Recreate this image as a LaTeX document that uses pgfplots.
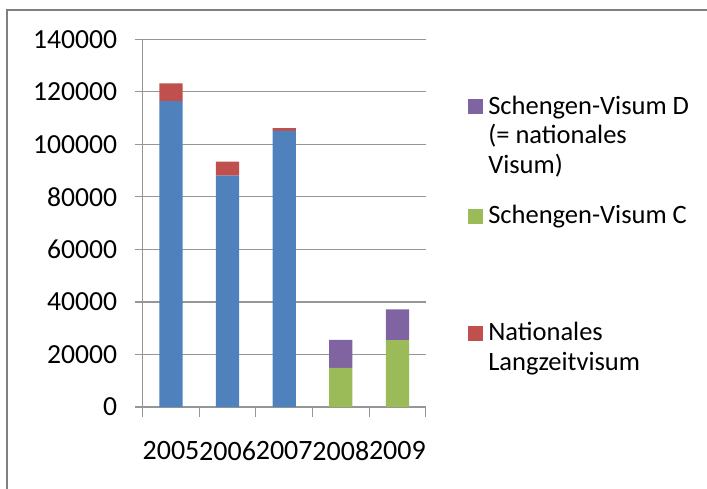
\documentclass[border=0pt]{standalone}
\usepackage{pgfplots}
\pgfplotsset{compat=1.18}
\usepackage{fontspec}
\setmainfont{Carlito}
\definecolor{cblue}{HTML}{4F81BD}
\definecolor{cred}{HTML}{C0504D}
\definecolor{cgreen}{HTML}{9BBB59}
\definecolor{cpurple}{HTML}{8064A2}
\definecolor{axgray}{RGB}{150,150,150}
\definecolor{framegray}{RGB}{128,128,128}
\newcommand{\lline}[1]{\hbox{\rule[-9.5pt]{0pt}{29.5pt}#1}}
\begin{document}
\fontsize{26}{29.5}\selectfont
\begin{tikzpicture}[x=1pt,y=1pt]
\useasboundingbox (0,0) rectangle (707,488);
\draw[framegray, line width=2pt] (7.3,-5) -- (7.3,478) -- (712,478);
\begin{axis}[
  at={(142.7pt,81pt)}, anchor=south west,
  width=283pt, height=367.7pt, scale only axis,
  ybar stacked, bar width=0.41,
  xmin=-0.5, xmax=4.5, ymin=0, ymax=140000,
  xtick={0,1,2,3,4},
  xticklabels={2005,2006,2007,2008,2009},
  minor xtick={-0.5,0.5,1.5,2.5,3.5,4.5},
  ytick={0,20000,40000,60000,80000,100000,120000,140000},
  scaled y ticks=false,
  /pgf/number format/fixed,
  /pgf/number format/1000 sep={},
  /pgf/number format/assume math mode=true,
  yticklabel style={inner sep=0pt, xshift=-17.4pt, font=\fontsize{27.6}{30}\selectfont},
  xticklabel style={inner sep=0pt, yshift=-26.5pt, font=\fontsize{28}{30}\selectfont},
  axis lines*=left,
  ymajorgrids,
  grid style={axgray, line width=1.2pt},
  axis line style={axgray, line width=1.2pt},
  tick align=outside,
  major tick length=8pt,
  minor tick length=9.5pt,
  major tick style={axgray, line width=1.2pt},
  minor tick style={axgray, line width=1.2pt},
  major x tick style={draw=none},
  every axis legend/.style={
    at={(1.1505,0.8499)}, anchor=north west,
    draw=none, fill=none, inner sep=0pt, outer sep=0pt,
    row sep=0pt, column sep=5pt,
    cells={anchor=base west},
    nodes={inner sep=0pt, text depth={}, font=\fontsize{26.5}{29.5}\selectfont},
  },
  legend image code/.code={\path[#1, draw=none] (0pt,0pt) rectangle (15pt,15pt);},
]
\addplot[fill=cblue, draw=none, forget plot] coordinates {(0,116500) (1,88100) (2,105100) (3,0) (4,0)};
\addplot[fill=cred, draw=none, forget plot] coordinates {(0,6700) (1,5350) (2,1050) (3,0) (4,0)};
\addplot[fill=cgreen, draw=none, forget plot] coordinates {(0,0) (1,0) (2,0) (3,14900) (4,25500)};
\addplot[fill=cpurple, draw=none, forget plot] coordinates {(0,0) (1,0) (2,0) (3,10650) (4,11700)};
\addlegendimage{fill=cpurple}
\addlegendentry{\vtop{\lline{Schengen-Visum D}\lline{(= nationales}\lline{Visum)}\kern21pt}}
\addlegendimage{fill=cgreen}
\addlegendentry{\vtop{\lline{Schengen-Visum C}\kern87.5pt}}
\addlegendimage{fill=cred}
\addlegendentry{\vtop{\lline{Nationales}\lline{Langzeitvisum}}}
\end{axis}
\end{tikzpicture}
\end{document}
